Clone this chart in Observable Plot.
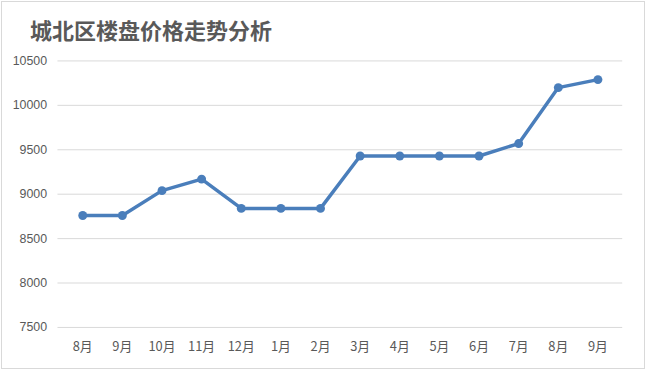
<!DOCTYPE html>
<html><head><meta charset="utf-8">
<script src="https://cdn.jsdelivr.net/npm/d3@7"></script>
<script src="https://cdn.jsdelivr.net/npm/@observablehq/plot@0.6"></script>
<style>
html,body{margin:0;padding:0;background:#fff;}
#wrap{position:absolute;left:1px;top:1px;width:642px;height:366px;border:1px solid #d9d9d9;background:#fff;overflow:hidden;}
#title{position:absolute;left:28px;top:12px;font-family:"Noto Sans CJK SC",sans-serif;font-weight:bold;font-size:22px;color:#595959;line-height:30px;}
#chart{position:absolute;left:-2px;top:-2px;}
</style></head>
<body>
<div id="wrap"><div id="title">城北区楼盘价格走势分析</div><div id="chart"></div></div>
<script>
const months = ["8月","9月","10月","11月","12月","1月","2月","3月","4月","5月","6月","7月","8月","9月"];
const prices = [8760,8760,9040,9170,8840,8840,8840,9430,9430,9430,9430,9570,10200,10290];
const yTicks = [7500,8000,8500,9000,9500,10000,10500];
const data = months.map((m,i)=>({key:i, label:m, price:prices[i]}));
const chart = Plot.plot({
  width:650, height:374,
  marginTop:61, marginBottom:44, marginLeft:58, marginRight:22,
  style:{fontFamily:"'Noto Sans CJK SC', sans-serif", fontSize:"12px", color:"#595959", background:"transparent"},
  x:{type:"point", domain:data.map(d=>d.key), padding:0.5, tickFormat:i=>months[i], label:null},
  y:{domain:[7500,10500], ticks:yTicks, label:null},
  marks:[
    Plot.gridY(yTicks,{stroke:"#d9d9d9", strokeOpacity:1, strokeWidth:1}),
    Plot.axisY(yTicks,{tickSize:0, tickPadding:11, fill:"#595959", fontSize:12.5, fontFamily:"'Liberation Sans', sans-serif", tickFormat:d=>String(d)}),
    Plot.axisX({tickSize:0, tickPadding:15, fill:"#595959", fontSize:13, tickFormat:i=>months[i]}),
    Plot.line(data,{x:"key", y:"price", stroke:"#4a7ebb", strokeWidth:3.5}),
    Plot.dot(data,{x:"key", y:"price", fill:"#4a7ebb", r:4.5})
  ]
});
document.getElementById("chart").appendChild(chart);
</script>
</body></html>
